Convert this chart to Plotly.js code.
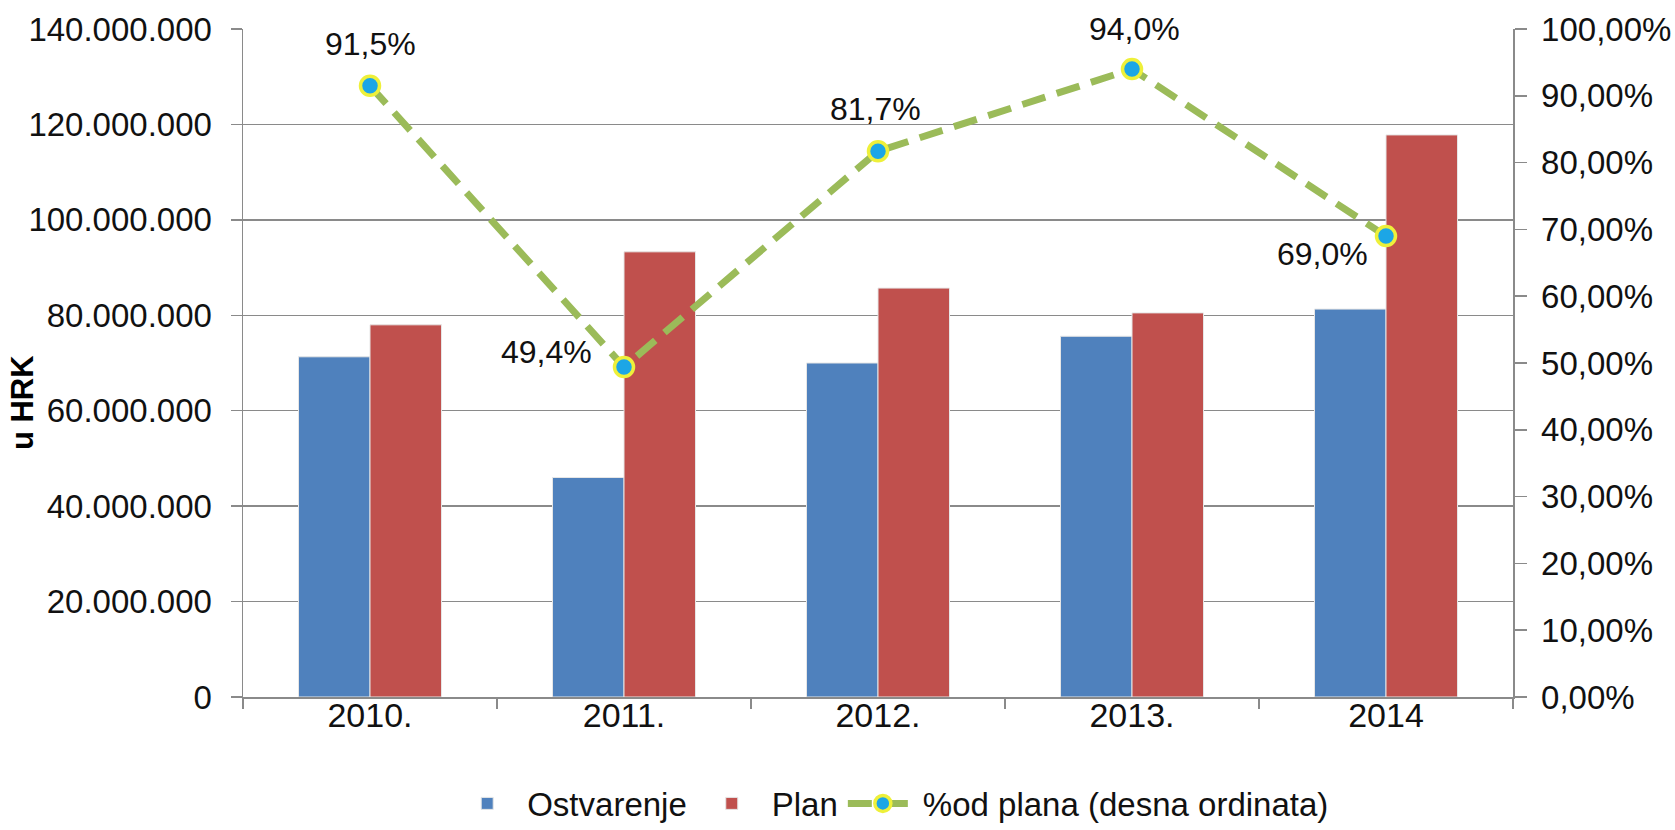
<!DOCTYPE html>
<html>
<head>
<meta charset="utf-8">
<script src="https://cdn.plot.ly/plotly-3.0.1.min.js"></script>
<style>html,body{margin:0;padding:0;background:#fff;}#chart{width:1675px;height:830px;}</style>
</head>
<body>
<div id="chart"></div>
<script>
const years = ["2010.", "2011.", "2012.", "2013.", "2014"];
const ostvarenje = [71300000, 46000000, 70000000, 75600000, 81300000];
const plan = [78000000, 93300000, 85700000, 80500000, 117800000];
const pctOdPlana = [91.5, 49.4, 81.7, 94.0, 69.0];
const seriesNames = ["Ostvarenje", "Plan", "%od plana (desna ordinata)"];
const yAxisTitle = "u HRK";

const FONT = "Liberation Sans, Arial, sans-serif";
const GRID = "#8a8a8a";

const traces = [
  {type: "bar", name: seriesNames[0], x: years, y: ostvarenje,
   marker: {color: "#4F81BD", line: {color: "#e6e6e6", width: 1}}, hoverinfo: "y"},
  {type: "bar", name: seriesNames[1], x: years, y: plan,
   marker: {color: "#C0504D", line: {color: "#e6e6e6", width: 1}}, hoverinfo: "y"},
  {type: "scatter", mode: "lines+markers", name: seriesNames[2], x: years, y: pctOdPlana, yaxis: "y2",
   line: {color: "#9BBB59", width: 7, dash: "24px,12px"},
   marker: {symbol: "circle", size: 19, color: "#1CA6E6", line: {color: "#EEF03A", width: 3.5}}}
];

// label placement offsets (style only)
const labelStyle = [
  {xanchor: "center", xshift: 0, yshift: 42},
  {xanchor: "right", xshift: -30, yshift: 15},
  {xanchor: "center", xshift: -3, yshift: 42},
  {xanchor: "center", xshift: 2, yshift: 40},
  {xanchor: "right", xshift: -16, yshift: -18}
];

const annotations = pctOdPlana.map((v, i) => ({
  x: i, y: v, xref: "x", yref: "y2", showarrow: false,
  text: v.toFixed(1).replace(".", ",") + "%",
  font: {family: FONT, size: 32, color: "#111"},
  xanchor: labelStyle[i].xanchor, yanchor: "middle",
  xshift: labelStyle[i].xshift, yshift: labelStyle[i].yshift
}));

annotations.push({
  text: yAxisTitle, xref: "paper", yref: "paper", x: 0, y: 0.44,
  xshift: -221, xanchor: "center", yanchor: "middle", textangle: -90, showarrow: false,
  font: {family: FONT, size: 31, color: "#000", weight: "bold"}
});

const layout = {
  width: 1675, height: 830,
  margin: {l: 243, r: 162, t: 29, b: 133},
  paper_bgcolor: "#fff", plot_bgcolor: "#fff",
  separators: ",.",
  font: {family: FONT, size: 33, color: "#111"},
  barmode: "group", bargap: 0.437, bargroupgap: 0,
  showlegend: true,
  legend: {orientation: "h", xref: "paper", x: 0.51, xanchor: "center",
           yref: "container", y: 0.032, yanchor: "middle",
           font: {family: FONT, size: 33, color: "#111"}, itemwidth: 70, traceorder: "normal"},
  xaxis: {type: "category", range: [-0.5, 4.5], showgrid: false, showline: true, linecolor: GRID, linewidth: 1.5,
          ticks: "outside", tickson: "boundaries", ticklen: 10, tickcolor: GRID, tickwidth: 1.5, tickangle: 0,
          ticklabelstandoff: -12,
          tickfont: {family: FONT, size: 34, color: "#111"}, fixedrange: true},
  yaxis: {range: [0, 140000000], dtick: 20000000, tickformat: ",d", showgrid: true, gridcolor: GRID, gridwidth: 1.5,
          zeroline: false, showline: true, linecolor: GRID, linewidth: 1.5,
          ticks: "outside", ticklen: 11, tickcolor: GRID, tickwidth: 1.5, ticklabelstandoff: 12,
          tickfont: {family: FONT, size: 33, color: "#111"}, fixedrange: true},
  yaxis2: {overlaying: "y", side: "right", range: [0, 100], dtick: 10, tickformat: ".2f", ticksuffix: "%",
           showgrid: false, zeroline: false, showline: true, linecolor: GRID, linewidth: 1.5,
           ticks: "outside", ticklen: 12, tickcolor: GRID, tickwidth: 1.5, ticklabelstandoff: 8,
           tickfont: {family: FONT, size: 33, color: "#111"}, fixedrange: true},
  annotations: annotations
};

Plotly.newPlot("chart", traces, layout, {displayModeBar: false, staticPlot: true});
</script>
</body>
</html>
